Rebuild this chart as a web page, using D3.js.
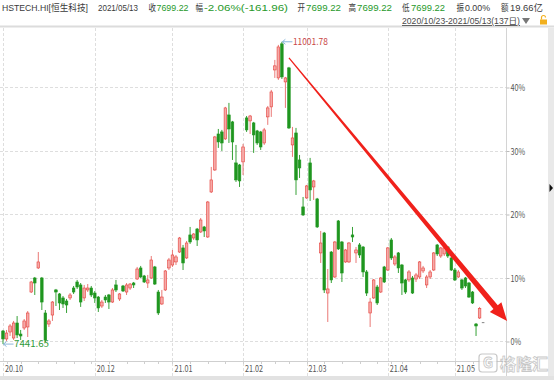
<!DOCTYPE html>
<html>
<head>
<meta charset="utf-8">
<script src="https://cdn.jsdelivr.net/npm/d3@7"></script>
<style>
  body { margin: 0; background: #fff; }
  svg { display: block; font-family: "Noto Sans CJK SC", "Microsoft YaHei", sans-serif; }
</style>
</head>
<body>
<div id="chart"></div>
<script>

// trading days, listed month by month (HK market, 137 days)
var months = ['2020-10', '2020-11', '2020-12', '2021-01', '2021-02', '2021-03', '2021-04', '2021-05'];
var monthDays = [
  [23, 27, 28, 29, 30],
  [2, 3, 4, 5, 6, 9, 10, 11, 12, 13, 16, 17, 18, 19, 20, 23, 24, 25, 26, 27, 30],
  [1, 2, 3, 4, 7, 8, 9, 10, 11, 14, 15, 16, 17, 18, 21, 22, 23, 24, 28, 29, 30, 31],
  [4, 5, 6, 7, 8, 11, 12, 13, 14, 15, 18, 19, 20, 21, 22, 25, 26, 27, 28, 29],
  [1, 2, 3, 4, 5, 8, 9, 10, 11, 16, 17, 18, 19, 22, 23, 24, 25, 26],
  [1, 2, 3, 4, 5, 8, 9, 10, 11, 12, 15, 16, 17, 18, 19, 22, 23, 24, 25, 26, 29, 30, 31],
  [1, 7, 8, 9, 12, 13, 14, 15, 16, 19, 20, 21, 22, 23, 26, 27, 28, 29, 30],
  [3, 4, 5, 6, 7, 10, 11, 12, 13]
];

// daily OHLC
var opens = [
  7596, 7502, 7584, 7513, 7690, 7560, 7631, 7643, 8055, 8220, 8338, 8220, 7808, 7678, 7784, 8079, 8032, 7985, 7949, 7985,
  8102, 8173, 8138, 7985, 8079, 8102, 8043, 7996, 7890, 7996, 8020, 7937, 8138, 7973, 8126, 8055, 8102, 8161, 8208, 8338,
  8244, 8161, 8220, 8350, 8055, 7914, 8079, 8338, 8373, 8409, 8526, 8574, 8456, 8727, 8691, 8797, 8762, 8821, 8703, 9233,
  9492, 9916, 9940, 9858, 10140, 10058, 9575, 9551, 9587, 10105, 10070, 10046, 9952, 9940, 9810, 10117, 10235, 10670, 10576, 10977,
  10529, 10694, 9787, 9928, 9610, 9057, 9163, 9575, 9292, 9151, 8515, 8750, 8043, 8526, 8232, 8892, 8644, 8409, 8409, 8727,
  8515, 8609, 8585, 8291, 7808, 7985, 8114, 8055, 8350, 8314, 8668, 8385, 8515, 8373, 8197, 8197, 8220, 8208, 8232, 8303,
  8138, 8232, 8314, 8609, 8479, 8503, 8585, 8456, 8314, 8232, 8197, 8220, 8161, 8055, 7678, 7749, 7699.22
];
var highs = [
  7608, 7608, 7678, 7714, 7772, 7608, 7737, 7831, 8185, 8232, 8526, 8232, 7843, 7737, 7949, 8091, 8043, 8008, 7973, 8043,
  8126, 8197, 8161, 8138, 8149, 8126, 8067, 8008, 7961, 8020, 8032, 8102, 8197, 8043, 8138, 8161, 8161, 8173, 8350, 8362,
  8256, 8256, 8479, 8362, 8079, 8079, 8314, 8456, 8550, 8491, 8703, 8609, 8656, 8821, 8750, 8809, 8927, 8833, 9127, 9528,
  9893, 9975, 9964, 10235, 10282, 10070, 9787, 9563, 9799, 10128, 10140, 10058, 9964, 9952, 9987, 10246, 10435, 10788, 10965, 11001.78,
  10588, 10706, 9999, 9987, 9669, 9174, 9316, 9634, 9375, 9163, 8774, 8762, 8326, 8538, 8656, 8903, 8656, 8562, 8644, 8821,
  8585, 8632, 8597, 8314, 7985, 8208, 8138, 8232, 8362, 8585, 8691, 8491, 8526, 8385, 8208, 8314, 8244, 8279, 8420, 8362,
  8256, 8314, 8526, 8621, 8585, 8597, 8597, 8468, 8338, 8314, 8208, 8232, 8173, 8067, 7690, 7879, 7699.22
];
var lows = [
  7441.65, 7478, 7537, 7490, 7513, 7490, 7608, 7525, 8043, 8020, 8326, 7843, 7466, 7643, 7714, 7890, 7843, 7867, 7808, 7961,
  8032, 8091, 7879, 7949, 8055, 7996, 7926, 7820, 7867, 7926, 7855, 7926, 8055, 7949, 8055, 8020, 8079, 8102, 8197, 8220,
  8161, 8102, 8208, 8138, 7784, 7902, 8067, 8314, 8350, 8373, 8515, 8314, 8444, 8621, 8668, 8597, 8750, 8703, 8691, 9221,
  9481, 9752, 9716, 9846, 9810, 9610, 9351, 9292, 9433, 9940, 9916, 9693, 9787, 9728, 9787, 10023, 10117, 10576, 10553, 10564,
  10223, 9975, 9646, 9198, 9398, 8951, 9151, 9127, 9139, 8809, 8397, 8043, 7702, 8161, 8220, 8550, 8173, 8397, 8397, 8644,
  8397, 8456, 8232, 8008, 7643, 7973, 7902, 8043, 8161, 8303, 8432, 8362, 8279, 8020, 8032, 8173, 8032, 8173, 8208, 8279,
  8102, 8208, 8303, 8479, 8456, 8479, 8456, 8303, 8185, 8220, 8079, 8102, 7985, 7914, 7537, 7737, 7699.22
];
var closes = [
  7502, 7572, 7655, 7690, 7549, 7537, 7714, 7808, 8173, 8161, 8409, 7937, 7490, 7714, 7937, 8055, 7926, 7914, 7902, 8020,
  8055, 8114, 7937, 8102, 8102, 8020, 7985, 7867, 7937, 7961, 7937, 8079, 8079, 8032, 8067, 8138, 8149, 8138, 8326, 8232,
  8173, 8197, 8432, 8149, 7808, 7996, 8303, 8432, 8491, 8468, 8691, 8397, 8632, 8644, 8738, 8668, 8903, 8774, 9115, 9375,
  9881, 9822, 9810, 10223, 9975, 9822, 9375, 9363, 9763, 9964, 10128, 9905, 9810, 9763, 9964, 10223, 10411, 10718, 10941, 10588,
  10576, 9987, 9869, 9375, 9516, 8962, 9304, 9257, 9363, 8821, 8632, 8079, 8091, 8197, 8644, 8562, 8279, 8550, 8632, 8703,
  8550, 8491, 8291, 8043, 7937, 8197, 7926, 8220, 8173, 8574, 8456, 8468, 8338, 8161, 8055, 8291, 8043, 8256, 8409, 8338,
  8232, 8291, 8515, 8503, 8574, 8574, 8479, 8314, 8197, 8291, 8102, 8126, 7996, 7926, 7655, 7861.18, 7699.22
];

var basePrice = 7478;                       // price that sits on the 0% line
var pctTicks = [0, 0.1, 0.2, 0.3, 0.4];
var labelMonths = ['2020-10', '2020-12', '2021-01', '2021-02', '2021-03', '2021-04', '2021-05'];
var rangeText = '2020/10/23-2021/05/13(137日)';

// trend arrow drawn on the chart (day index, % level)
var arrowFrom = { i: 81, pct: 0.4457 };
var arrowTo = { i: 142.8, pct: 0.0315 };

// quote line in the header: [text, x, width, kind]
var quote = [
  ['HSTECH.HI[恒生科技]', 2, 86, 'label'],
  ['2021/05/13', 98, 40, 'label'],
  ['收', 148.5, 7.5, 'label'], ['7699.22', 156.5, 32, 'value'],
  ['幅', 195.5, 7.5, 'label'], ['-2.06%(-161.96)', 204, 84, 'value'],
  ['开', 297.5, 7.5, 'label'], ['7699.22', 306, 35, 'value'],
  ['高', 348.5, 7.5, 'label'], ['7699.22', 357, 35, 'value'],
  ['低', 402, 7.5, 'label'], ['7699.22', 411, 34, 'value'],
  ['振', 456.5, 7.5, 'label'], ['0.00%', 465, 25, 'label'],
  ['额', 501, 7.5, 'label'], ['19.66亿', 510, 33, 'label']
];

var width = 554, height = 380;
var plotTop = 28, plotRight = 506, axisY = 361, plotBottom = 376;
var upColor = '#e5403b', upFill = '#f5a9a7', downColor = '#1f961f';
var squeezeRatio = 0.76;

var svg = d3.select('#chart').append('svg')
  .attr('width', width)
  .attr('height', height);

// build rows
var dates = [];
months.forEach(function(m, k) {
  monthDays[k].forEach(function(d) { dates.push(m + '-' + (d < 10 ? '0' + d : d)); });
});
var candles = dates.map(function(d, i) {
  return { date: d, i: i, o: opens[i], h: highs[i], l: lows[i], c: closes[i] };
});

var x = d3.scaleLinear().domain([0, dates.length - 1]).range([3, 483.1]);
var y = d3.scaleLinear().domain([0, 0.4]).range([341, 87]);
function py(p) { return y(p / basePrice - 1); }

function squeeze(sel, w) {
  sel.each(function() {
    var n = this;
    var len = w || n.getComputedTextLength() * squeezeRatio;
    d3.select(n).attr('textLength', len).attr('lengthAdjust', 'spacingAndGlyphs');
  });
}

// frame bits
svg.append('rect').attr('x', 0).attr('y', 0).attr('width', width).attr('height', height).attr('fill', '#fff');
svg.append('line')
  .attr('x1', 0).attr('x2', width).attr('y1', 26.5).attr('y2', 26.5)
  .attr('stroke', '#dcdcdc').attr('stroke-width', 2);
svg.append('rect').attr('x', 548).attr('y', 28).attr('width', 6).attr('height', 352).attr('fill', '#e9e9e9');
svg.append('path').attr('d', 'M549.5,184 L553,188 L549.5,192 Z').attr('fill', '#111');
svg.append('rect').attr('x', 0).attr('y', 376).attr('width', width).attr('height', 4).attr('fill', '#e2e2e2');

// horizontal grid
svg.append('g').selectAll('line')
  .data(pctTicks)
  .enter().append('line')
  .attr('x1', 0).attr('x2', plotRight)
  .attr('y1', function(d) { return Math.round(y(d)) + 0.5; })
  .attr('y2', function(d) { return Math.round(y(d)) + 0.5; })
  .attr('stroke', '#dedede')
  .attr('stroke-dasharray', '3,2');

// month separators + labels
var monthIdx = labelMonths.map(function(m) {
  return { m: m, i: dates.findIndex(function(d) { return d.indexOf(m) === 0; }) };
});
svg.append('g').selectAll('line')
  .data(monthIdx)
  .enter().append('line')
  .attr('x1', function(d) { return Math.round(x(d.i)) + 0.5; })
  .attr('x2', function(d) { return Math.round(x(d.i)) + 0.5; })
  .attr('y1', plotTop).attr('y2', plotBottom)
  .attr('stroke', '#dedede')
  .attr('stroke-dasharray', '3,2');

// bottom axis line and weekly ticks
svg.append('line')
  .attr('x1', 0).attr('x2', plotRight).attr('y1', axisY + 0.5).attr('y2', axisY + 0.5)
  .attr('stroke', '#cfcfcf');
var weekStarts = candles.filter(function(d, i) {
  return i > 0 && new Date(d.date).getUTCDay() < new Date(dates[i - 1]).getUTCDay();
});
svg.append('g').selectAll('line')
  .data(weekStarts)
  .enter().append('line')
  .attr('x1', function(d) { return Math.round(x(d.i)) + 0.5; })
  .attr('x2', function(d) { return Math.round(x(d.i)) + 0.5; })
  .attr('y1', axisY).attr('y2', axisY + 3)
  .attr('stroke', '#cfcfcf');

var monthLabels = svg.append('g').selectAll('text')
  .data(monthIdx)
  .enter().append('text')
  .attr('x', function(d) { return x(d.i) + 2; })
  .attr('y', 372)
  .attr('font-size', 9.5)
  .attr('fill', '#555')
  .text(function(d) { return d.m.slice(2, 4) + '.' + d.m.slice(5, 7); });
squeeze(monthLabels);

// right % axis
svg.append('line')
  .attr('x1', plotRight + 0.5).attr('x2', plotRight + 0.5).attr('y1', plotTop).attr('y2', plotBottom)
  .attr('stroke', '#d4d4d4');
var yAxis = svg.append('g')
  .attr('transform', 'translate(' + (plotRight + 0.5) + ',0.5)')
  .call(d3.axisRight(y).tickValues(pctTicks).tickFormat(d3.format('.0%')).tickSize(3).tickPadding(1));
yAxis.select('.domain').remove();
yAxis.selectAll('line').attr('stroke', '#bbb');
yAxis.selectAll('text')
  .attr('font-family', '"Noto Sans CJK SC", sans-serif')
  .attr('font-size', 9.5)
  .attr('fill', '#555');
squeeze(yAxis.selectAll('text'));

// candles
var body = 2.6;
var g = svg.append('g');
g.selectAll('.wick')
  .data(candles)
  .enter().append('line')
  .attr('class', 'wick')
  .attr('x1', function(d) { return x(d.i); })
  .attr('x2', function(d) { return x(d.i); })
  .attr('y1', function(d) { return py(d.h); })
  .attr('y2', function(d) { return py(d.l); })
  .attr('stroke', function(d) { return d.c > d.o ? '#e86a66' : downColor; })
  .attr('stroke-width', 0.9);

g.selectAll('.body')
  .data(candles)
  .enter().append('rect')
  .attr('class', 'body')
  .attr('x', function(d) { return x(d.i) - body / 2; })
  .attr('width', body)
  .attr('y', function(d) { return Math.min(py(d.o), py(d.c)); })
  .attr('height', function(d) { return Math.max(0.9, Math.abs(py(d.o) - py(d.c))); })
  .attr('fill', function(d) {
    if (d.c === d.o) return '#777';
    return d.c > d.o ? upFill : downColor;
  })
  .attr('stroke', function(d) {
    if (d.c === d.o) return 'none';
    return d.c > d.o ? upColor : downColor;
  })
  .attr('stroke-width', 0.6);

// max / min markers
var hiI = d3.maxIndex(highs), loI = d3.minIndex(lows);
function marker(i, price, color) {
  var cx = x(i) + 0.5, cy = py(price);
  svg.append('path')
    .attr('d', 'M' + (cx + 10) + ',' + cy + ' L' + cx + ',' + cy + ' M' + (cx + 3) + ',' + (cy - 2.5) + ' L' + cx + ',' + cy + ' L' + (cx + 3) + ',' + (cy + 2.5))
    .attr('fill', 'none')
    .attr('stroke', '#7fb0d6')
    .attr('stroke-width', 0.9);
  var t = svg.append('text')
    .attr('x', cx + 10.5).attr('y', cy + 3.3)
    .attr('font-size', 9.5)
    .attr('fill', color)
    .text(d3.format('.2f')(price));
  squeeze(t, 35);
}
marker(hiI, highs[hiI], '#c84545');
marker(loI, lows[loI], '#2f9a3a');

// red trend arrow
(function() {
  var p0 = [x(arrowFrom.i), y(arrowFrom.pct)];
  var p1 = [x(arrowTo.i), y(arrowTo.pct)];
  var dx = p1[0] - p0[0], dy = p1[1] - p0[1];
  var len = Math.sqrt(dx * dx + dy * dy);
  var u = [dx / len, dy / len], n = [-u[1], u[0]];
  var headLen = 18, headW = 7.5, w0 = 1.2, w1 = 5.6;
  var b = [p1[0] - u[0] * headLen, p1[1] - u[1] * headLen];
  function pt(base, s) { return (base[0] + n[0] * s) + ',' + (base[1] + n[1] * s); }
  var d = 'M' + pt(p0, w0 / 2) + ' L' + pt(b, w1 / 2) + ' L' + pt(b, headW) + ' L' + p1[0] + ',' + p1[1] +
          ' L' + pt(b, -headW) + ' L' + pt(b, -w1 / 2) + ' L' + pt(p0, -w0 / 2) + ' Z';
  svg.append('path').attr('d', d).attr('fill', '#f0211b');
})();

// header
var head = svg.append('g')
  .attr('font-family', '"Liberation Sans", "Noto Sans CJK SC", sans-serif')
  .attr('font-size', 9.5);
quote.forEach(function(q) {
  var t = head.append('text')
    .attr('x', q[1]).attr('y', 11)
    .attr('fill', q[3] === 'value' ? '#26992a' : '#3a3a3a')
    .text(q[0]);
  if (q[2]) squeeze(t, q[2]);
});
var rt = head.append('text')
  .attr('x', 402).attr('y', 24)
  .attr('font-size', 8.5)
  .attr('fill', '#4a4a4a')
  .attr('text-decoration', 'underline')
  .text(rangeText);
squeeze(rt, 118);
head.append('path').attr('d', 'M522,18 L530,18 L526,24 Z').attr('fill', '#777');
head.append('rect').attr('x', 540).attr('y', 19.5).attr('width', 7).attr('height', 5).attr('fill', '#f2b01e');
head.append('path').attr('d', 'M541.5,19.5 v-2 a2,2 0 0 1 4,0').attr('fill', 'none').attr('stroke', '#f2b01e').attr('stroke-width', 1.2);

// watermark
var wm = svg.append('g').attr('opacity', 0.75);
wm.append('rect')
  .attr('x', 479).attr('y', 354).attr('width', 18).attr('height', 18).attr('rx', 3)
  .attr('fill', '#fff').attr('stroke', '#b5b5b5').attr('stroke-width', 1.2);
wm.append('text')
  .attr('x', 488).attr('y', 368).attr('text-anchor', 'middle')
  .attr('font-size', 14).attr('font-weight', 'bold')
  .attr('fill', '#fff').attr('stroke', '#b5b5b5').attr('stroke-width', 0.8)
  .text('G');
wm.append('text')
  .attr('x', 500).attr('y', 370)
  .attr('font-size', 16).attr('font-weight', 'bold')
  .attr('fill', '#fff').attr('stroke', '#b5b5b5').attr('stroke-width', 0.8)
  .text('格隆汇');

</script>
</body>
</html>
